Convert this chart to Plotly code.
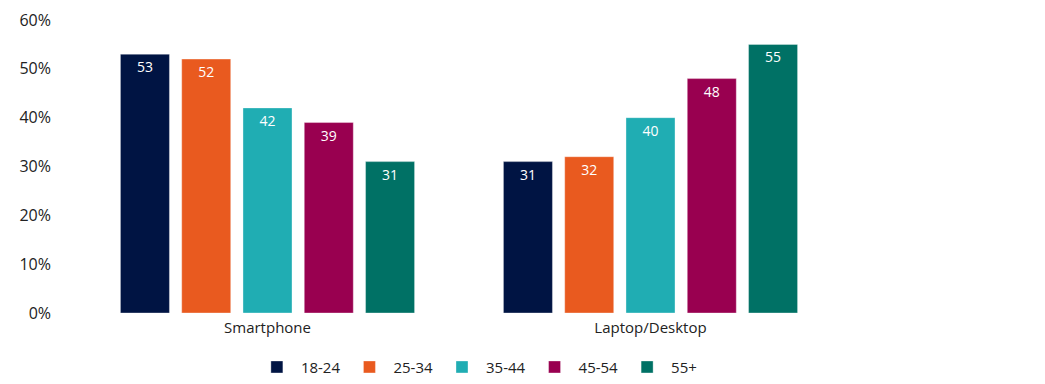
import plotly.graph_objects as go

categories = ["Smartphone", "Laptop/Desktop"]
age_groups = ["18-24", "25-34", "35-44", "45-54", "55+"]
values = {
    "18-24": [53, 31],
    "25-34": [52, 32],
    "35-44": [42, 40],
    "45-54": [39, 48],
    "55+": [31, 55],
}
colors = ["#001443", "#E95A1F", "#20ADB3", "#990050", "#007165"]
y_ticks = [0, 10, 20, 30, 40, 50, 60]
y_tick_labels = ["0%", "10%", "20%", "30%", "40%", "50%", "60%"]

fig = go.Figure()
for name, col in zip(age_groups, colors):
    fig.add_trace(go.Bar(
        x=categories, y=values[name], name=name,
        marker=dict(color=col, line=dict(color="rgba(255,255,255,0.35)", width=1)),
        text=[str(v) for v in values[name]],
        textposition="inside", insidetextanchor="end",
        textfont=dict(color="white", size=14),
        cliponaxis=False,
    ))

fig.update_layout(
    width=1045, height=384,
    margin=dict(l=76, r=203, t=20, b=71, autoexpand=False),
    barmode="group", bargap=0.2, bargroupgap=0.2,
    plot_bgcolor="white", paper_bgcolor="white",
    font=dict(family="Open Sans, sans-serif", size=15, color="#222"),
    showlegend=True,
    legend=dict(orientation="h", x=0.524, xanchor="center", y=-0.185, yanchor="middle",
                font=dict(size=15), itemwidth=38, traceorder="normal"),
    uniformtext=dict(mode="show", minsize=14),
)
fig.update_xaxes(showline=False, showgrid=False, ticks="", tickfont=dict(size=15),
                 ticklabelstandoff=4)
fig.update_yaxes(range=[0, 60], tickvals=y_ticks, ticktext=y_tick_labels,
                 showgrid=False, zeroline=False, showline=False,
                 tickfont=dict(size=16), ticklabelstandoff=24)

fig.write_html("out.html")
